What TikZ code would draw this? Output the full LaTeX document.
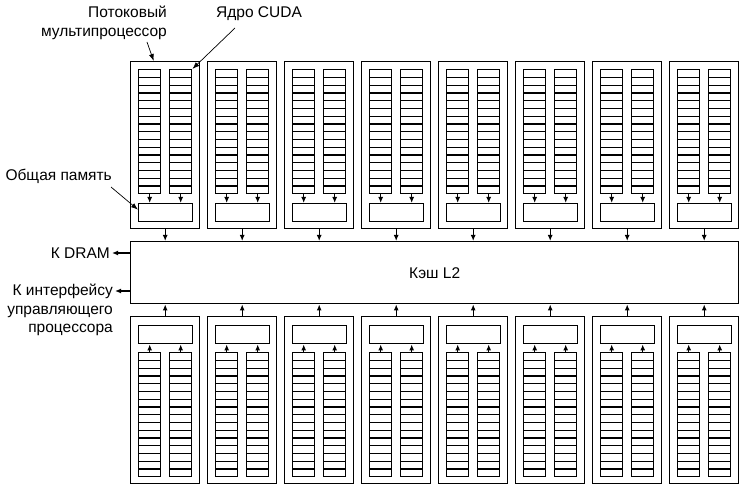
\documentclass[tikz,border=0pt]{standalone}
\usepackage{fontspec}
\setmainfont{Liberation Sans}
\usetikzlibrary{arrows.meta}
\begin{document}
\begin{tikzpicture}[x=1bp,y=-1bp,
  box/.style={draw, line width=1.4bp, inner sep=0, anchor=north west},
  smbox/.style={box, minimum width=69bp, minimum height=167bp},
  colbox/.style={box, minimum width=22bp, minimum height=124bp,
    path picture={\foreach \k in {1,...,15}{\draw[line width=1.2bp] ([yshift=-\k*7.75bp]path picture bounding box.north west) -- ([yshift=-\k*7.75bp]path picture bounding box.north east);}}},
  membox/.style={box, minimum width=54bp, minimum height=18bp},
  lbl/.style={inner sep=0, font=\fontsize{15.5bp}{18.5bp}\selectfont},
  link/.style={line width=1.2bp, -{Latex[length=6bp,width=5bp]}},
  ptr/.style={line width=0.7bp, -{Latex[length=7bp,width=5bp]}}
]
\useasboundingbox (0,0) rectangle (743,488);

\node[box, lbl, minimum width=608bp, minimum height=62bp] (cache) at (130,241) {Кэш L2};

\foreach \i in {0,...,7}{
  \pgfmathsetmacro\xa{130+77*\i}
  % top streaming multiprocessors
  \node[smbox] (t\i) at (\xa,61) {};
  \node[colbox] (ta\i) at (\xa+8,69) {};
  \node[colbox] (tb\i) at (\xa+39,69) {};
  \node[membox] (tm\i) at (\xa+8,203) {};
  \draw[link] (ta\i.south) -- (ta\i.south |- tm\i.north);
  \draw[link] (tb\i.south) -- (tb\i.south |- tm\i.north);
  \draw[link] (t\i.south) -- (t\i.south |- cache.north);
  % bottom streaming multiprocessors
  \node[smbox] (b\i) at (\xa,316) {};
  \node[membox] (bm\i) at (\xa+8,325) {};
  \node[colbox] (ba\i) at (\xa+8,352) {};
  \node[colbox] (bb\i) at (\xa+39,352) {};
  \draw[link] (ba\i.north) -- (ba\i.north |- bm\i.south);
  \draw[link] (bb\i.north) -- (bb\i.north |- bm\i.south);
  \draw[link] (b\i.north) -- (b\i.north |- cache.south);
}

% labels
\node[lbl, align=right, anchor=east] (smlbl) at (167,23) {Потоковый\\мультипроцессор};
\node[lbl, anchor=west] (corelbl) at (216,14) {Ядро CUDA};
\node[lbl, anchor=east] (memlbl) at (112,176) {Общая память};
\node[lbl, anchor=east] (dram) at (110,253) {К DRAM};
\node[lbl, align=right, anchor=north east] (host) at (113,284) {К интерфейсу\\управляющего\\процессора};

\coordinate (smtail) at (147,42);
\draw[ptr] (smtail) -- ([xshift=-11.5bp]t0.north);
\coordinate (coretail) at (235,28);
\draw[ptr] (coretail) -- (tb0.north east);
\coordinate (memtail) at (111,187);
\draw[ptr] (memtail) -- ([yshift=3bp]tm0.west);

\draw[link] (cache.west |- dram.east) -- ([xshift=2bp]dram.east);
\coordinate (hostpt) at (115,291);
\draw[link] (cache.west |- hostpt) -- (hostpt);
\end{tikzpicture}
\end{document}
